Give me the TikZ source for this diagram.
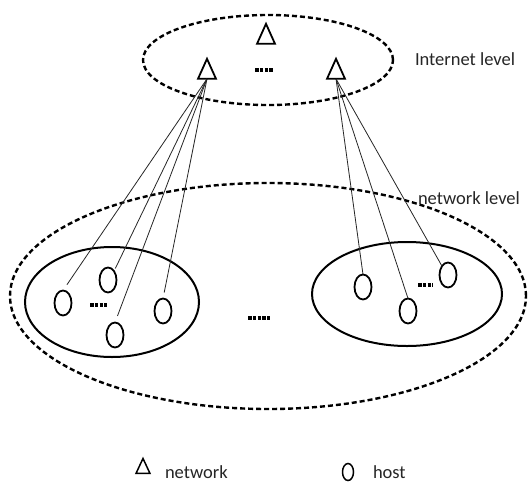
\documentclass[tikz,border=0pt]{standalone}
\usepackage{fontspec}
\setmainfont{Carlito}
\usetikzlibrary{shapes.geometric}
\begin{document}
\begin{tikzpicture}[x=1pt,y=-1pt,
  every node/.style={inner sep=0pt, outer sep=0pt},
  net/.style={isosceles triangle, isosceles triangle stretches, shape border rotate=90,
    draw, line width=1.8pt, minimum width=18pt, minimum height=20pt},
  host/.style={ellipse, draw, line width=1.8pt, minimum width=17pt, minimum height=25pt},
  link/.style={line width=0.8pt, black!85},
  area/.style={ellipse, draw, line width=2pt},
  level/.style={ellipse, draw, line width=2.4pt, dash pattern=on 5pt off 3pt},
  lbl/.style={font=\fontsize{18.5}{20}\selectfont, text=black!85},
  more/.style={line width=4pt, dash pattern=on 3.5pt off 1.3pt}
]
\useasboundingbox[fill=white] (0,0) rectangle (529,482);

% level boundaries
\node[level, minimum width=250pt, minimum height=90pt] (inet) at (268,60) {};
\node[level, minimum width=516pt, minimum height=226pt] (netlvl) at (268,296) {};

% the two networks
\node[area, minimum width=174pt, minimum height=110pt] (leftnet) at (112,302) {};
\node[area, minimum width=190pt, minimum height=104pt] (rightnet) at (407,294) {};

% networks at internet level
\node[net] (top) at (266,38) {};
\node[net] (lt) at (207,73) {};
\node[net] (rt) at (336,73) {};

% hosts
\node[host] (h1) at (63,303) {};
\node[host] (h2) at (108,280) {};
\node[host] (h3) at (115,335) {};
\node[host] (h4) at (163,311) {};
\node[host] (r1) at (363,287) {};
\node[host] (r2) at (408,311) {};
\node[host] (r3) at (448,275) {};

% ellipsis marks
\draw[more] (255,70) -- (273,70);
\draw[more] (90,305) -- (107,305);
\draw[more] (248,318) -- (270,318);
\draw[more] (418,285) -- (433,285);

% links from networks to hosts
\draw[link, shorten >=7pt] (lt.south) -- (h1.north);
\draw[link, shorten >=3pt] (lt.south) -- (h2.north east);
\draw[link, shorten >=7pt] (lt.south) -- (h3.north);
\draw[link, shorten >=6pt] (lt.south) -- (h4.north);
\draw[link] (rt.south) -- (r1.north);
\draw[link] (rt.south) -- (r2.north);
\draw[link] (rt.south) -- (r3.north west);

% level labels
\node[lbl, anchor=base west] (inetlbl) at (415,65) {Internet level};
\node[lbl, anchor=base west] (netlbl) at (418,204) {network level};

% key
\node[net, line width=1.5pt, minimum width=14pt, minimum height=15pt] (keynet) at (143,469) {};
\node[lbl, anchor=base west] (keynettxt) at (165,478) {network};
\node[host, line width=1.5pt, minimum width=11pt, minimum height=17pt] (keyhost) at (348,472) {};
\node[lbl, anchor=base west] (keyhosttxt) at (373,478) {host};
\end{tikzpicture}
\end{document}
